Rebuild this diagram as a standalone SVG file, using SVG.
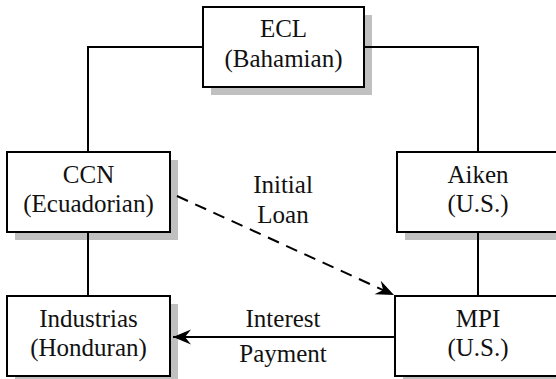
<svg xmlns="http://www.w3.org/2000/svg" width="556" height="379" viewBox="0 0 556 379">
<style>
.shadow{fill:#c0c0c0;stroke:none}
.box{fill:#ffffff;stroke:#000000;stroke-width:2}
.lbl{font-family:"Liberation Serif","Times New Roman",serif;font-size:25px;fill:#111111;text-anchor:middle}
.ln{fill:none;stroke:#000000;stroke-width:2}
.dash{stroke-dasharray:12 8}
</style>
<defs>
<marker id="arr" markerUnits="userSpaceOnUse" markerWidth="20" markerHeight="16" viewBox="-18 -8 20 16" refX="0" refY="0" orient="auto">
<path d="M0,0 L-18,-7.5 L-12,0 L-18,7.5 Z" fill="#000000"/>
</marker>
</defs>
<rect width="556" height="379" fill="#ffffff"/>
<g id="ECL">
<rect class="shadow" x="211" y="15" width="161" height="80"/>
<rect class="box" x="203" y="7" width="161" height="80"/>
<text class="lbl" x="283.5" y="37">ECL</text>
<text class="lbl" x="283.5" y="67">(Bahamian)</text>
</g>
<g id="CCN">
<rect class="shadow" x="15" y="160" width="163" height="80"/>
<rect class="box" x="7" y="152" width="163" height="80"/>
<text class="lbl" x="88.5" y="183">CCN</text>
<text class="lbl" x="88.5" y="212">(Ecuadorian)</text>
</g>
<g id="Aiken">
<rect class="shadow" x="405" y="160" width="163" height="80"/>
<rect class="box" x="397" y="152" width="163" height="80"/>
<text class="lbl" x="478" y="183">Aiken</text>
<text class="lbl" x="478" y="212">(U.S.)</text>
</g>
<g id="Industrias">
<rect class="shadow" x="15" y="304" width="163" height="80"/>
<rect class="box" x="7" y="296" width="163" height="80"/>
<text class="lbl" x="88.5" y="327">Industrias</text>
<text class="lbl" x="88.5" y="356">(Honduran)</text>
</g>
<g id="MPI">
<rect class="shadow" x="403" y="304" width="163" height="80"/>
<rect class="box" x="395" y="296" width="163" height="80"/>
<text class="lbl" x="478" y="327">MPI</text>
<text class="lbl" x="478" y="356">(U.S.)</text>
</g>
<g id="connectors">
<path class="ln" d="M88,151 V47 H202"/>
<path class="ln" d="M365,47 H478 V151"/>
<path class="ln" d="M88,233 V295"/>
<path class="ln" d="M478,233 V295"/>
<path class="ln dash" d="M177,196 L394,295" marker-end="url(#arr)"/>
<path class="ln" d="M394,337 H173" marker-end="url(#arr)"/>
<text class="lbl" x="283" y="193">Initial</text>
<text class="lbl" x="283" y="223">Loan</text>
<text class="lbl" x="283" y="327">Interest</text>
<text class="lbl" x="283" y="362">Payment</text>
</g>
</svg>
